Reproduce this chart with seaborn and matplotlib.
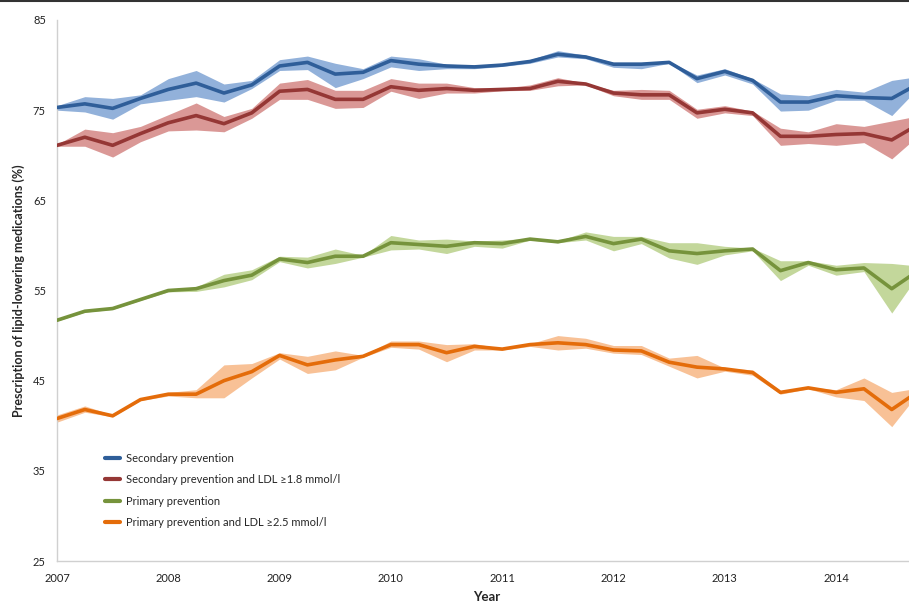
import numpy as np
import pandas as pd
import matplotlib
matplotlib.use("Agg")
import matplotlib.pyplot as plt
from matplotlib.lines import Line2D
import seaborn as sns

# quarterly time points, 2007 Q1 .. 2014 Q4
quarters = [2007 + i * 0.25 for i in range(32)]

series_names = [
    "Secondary prevention",
    "Secondary prevention and LDL \u22651.8 mmol/l",
    "Primary prevention",
    "Primary prevention and LDL \u22652.5 mmol/l",
]

sec = [75.3, 75.7, 75.2, 76.3, 77.3, 78.0, 76.9, 77.8, 79.9, 80.3, 79.0, 79.2,
       80.5, 80.1, 79.9, 79.8, 80.0, 80.4, 81.2, 80.9, 80.1, 80.1, 80.3, 78.5,
       79.3, 78.3, 75.9, 75.9, 76.6, 76.4, 76.3, 78.0]
sec_lo = [75.0, 74.8, 74.0, 75.7, 76.1, 76.5, 75.9, 77.4, 79.4, 79.5, 77.5, 78.5,
          79.8, 79.4, 79.6, 79.6, 79.85, 80.2, 80.9, 80.7, 79.75, 79.6, 80.2, 78.05,
          78.9, 77.9, 74.9, 75.0, 76.1, 76.1, 74.4, 77.6]
sec_hi = [75.5, 76.5, 76.3, 76.7, 78.5, 79.4, 77.9, 78.3, 80.6, 81.0, 80.2, 79.6,
          81.0, 80.7, 80.1, 80.0, 80.15, 80.6, 81.6, 81.1, 80.3, 80.3, 80.4, 78.9,
          79.6, 78.5, 76.8, 76.6, 77.3, 77.0, 78.3, 78.75]

sec_ldl = [71.1, 72.0, 71.1, 72.4, 73.6, 74.4, 73.5, 74.7, 77.1, 77.3, 76.2, 76.2,
           77.6, 77.2, 77.4, 77.2, 77.3, 77.4, 78.2, 77.9, 76.9, 76.7, 76.7, 74.7,
           75.1, 74.7, 72.1, 72.1, 72.3, 72.4, 71.7, 73.5]
sec_ldl_lo = [71.0, 71.0, 69.8, 71.5, 72.7, 72.8, 72.6, 74.1, 76.2, 76.2, 75.2, 75.3,
              77.1, 76.3, 76.9, 76.9, 77.15, 77.2, 77.7, 77.8, 76.6, 76.2, 76.2, 74.1,
              74.7, 74.4, 71.1, 71.3, 71.1, 71.4, 69.6, 72.3]
sec_ldl_hi = [71.2, 72.9, 72.5, 73.2, 74.5, 75.8, 74.3, 75.2, 78.0, 78.4, 77.2, 77.2,
              78.5, 78.0, 78.0, 77.5, 77.45, 77.8, 78.6, 78.0, 77.2, 77.3, 77.2, 75.1,
              75.5, 74.9, 73.0, 72.6, 73.5, 73.2, 73.8, 74.4]

prim = [51.7, 52.7, 53.0, 54.0, 55.0, 55.2, 56.1, 56.7, 58.5, 58.1, 58.8, 58.8,
        60.3, 60.1, 59.9, 60.3, 60.2, 60.7, 60.4, 61.0, 60.2, 60.7, 59.4, 59.1,
        59.4, 59.6, 57.2, 58.1, 57.3, 57.5, 55.2, 57.3]
prim_lo = [51.6, 52.6, 52.9, 53.9, 54.85, 54.9, 55.4, 56.2, 58.2, 57.5, 58.0, 58.7,
           59.5, 59.6, 59.1, 59.9, 59.7, 60.6, 60.3, 60.6, 59.4, 60.2, 58.6, 57.9,
           58.95, 59.4, 56.1, 57.8, 56.7, 57.1, 52.5, 56.9]
prim_hi = [51.8, 52.8, 53.1, 54.1, 55.15, 55.4, 56.8, 57.3, 58.8, 58.7, 59.6, 58.9,
           61.1, 60.6, 60.7, 60.5, 60.6, 60.8, 60.5, 61.5, 61.0, 61.0, 60.3, 60.3,
           59.9, 59.7, 58.3, 58.3, 57.8, 58.1, 58.0, 57.7]

prim_ldl = [40.8, 41.8, 41.1, 42.9, 43.5, 43.5, 45.0, 46.0, 47.8, 46.75, 47.3, 47.7,
            49.0, 49.0, 48.1, 48.8, 48.5, 49.0, 49.2, 49.0, 48.4, 48.3, 47.05, 46.5,
            46.3, 45.9, 43.7, 44.2, 43.7, 44.1, 41.8, 43.9]
prim_ldl_lo = [40.4, 41.5, 41.0, 42.8, 43.3, 43.1, 43.1, 45.3, 47.4, 45.8, 46.2, 47.6,
               48.7, 48.5, 47.1, 48.4, 48.4, 48.8, 48.4, 48.6, 48.05, 47.9, 46.6, 45.3,
               46.05, 45.6, 43.5, 44.1, 43.2, 42.8, 39.9, 43.8]
prim_ldl_hi = [41.2, 42.2, 41.2, 43.0, 43.7, 44.0, 46.75, 46.9, 48.1, 47.7, 48.3, 47.8,
               49.4, 49.4, 49.0, 49.1, 48.6, 49.1, 50.0, 49.7, 48.9, 48.9, 47.5, 47.8,
               46.4, 46.2, 43.9, 44.3, 44.0, 45.3, 43.7, 44.2]

line_colors = ["#2F5E99", "#953735", "#76933C", "#E46C0A"]
band_colors = ["#92B1DA", "#DA9896", "#C3D79B", "#F8C196"]

values = [sec, sec_ldl, prim, prim_ldl]
lows = [sec_lo, sec_ldl_lo, prim_lo, prim_ldl_lo]
highs = [sec_hi, sec_ldl_hi, prim_hi, prim_ldl_hi]

# long-form table for seaborn
frames = []
for name, v in zip(series_names, values):
    frames.append(pd.DataFrame({"Year": quarters, "Value": v, "Series": name}))
df = pd.concat(frames, ignore_index=True)

sns.set_style("white")
plt.rcParams["font.family"] = ["Lato", "DejaVu Sans"]

fig = plt.figure(figsize=(9.09, 6.05), dpi=100)
ax = fig.add_axes([57 / 909, 1 - 561 / 605, 1 - 57 / 909, (561 - 20) / 605])

# confidence bands first
for lo, hi, c in zip(lows, highs, band_colors):
    ax.fill_between(quarters, lo, hi, color=c, linewidth=0, zorder=1)

sns.lineplot(data=df, x="Year", y="Value", hue="Series", palette=line_colors,
             linewidth=2.6, ax=ax, zorder=3, legend=False)

ax.set_yticks(np.arange(25, 86, 10))
ax.set_xticks(range(2007, 2015))
ax.set_xticks(quarters, minor=True)
# limits after the ticks, the chart is cut off just past mid-2014
ax.set_xlim(2007, 2007 + (909 - 57) / 111.3)
ax.set_ylim(25, 85)
ax.tick_params(axis="x", which="both", direction="in", length=3, color="#BFBFBF",
               labelsize=8, pad=9, labelcolor="#222222")
ax.tick_params(axis="y", length=0, labelsize=8, pad=8, labelcolor="#222222")

for side in ["top", "right"]:
    ax.spines[side].set_visible(False)
for side in ["left", "bottom"]:
    ax.spines[side].set_color("#D0D0D0")
    ax.spines[side].set_linewidth(1)

ax.set_xlabel("Year", fontsize=9.5, fontweight="bold")
ax.xaxis.set_label_coords((487 - 57) / (909 - 57), -0.056)
ax.set_ylabel("Prescription of lipid-lowering medications (%)", fontsize=9, fontweight="bold")
ax.yaxis.set_label_coords(-0.037, 0.5)

handles = [Line2D([0], [0], color=c, linewidth=3) for c in line_colors]
ax.legend(handles, series_names, loc="lower left", bbox_to_anchor=(0.045, 0.042),
          frameon=False, fontsize=8, handlelength=1.3, labelspacing=0.95,
          handletextpad=0.6)

# thin dark border at the top of the image
fig.add_artist(Line2D([0, 1], [0.999, 0.999], color="#333333", linewidth=1.5,
                      transform=fig.transFigure))

fig.savefig("out.png", dpi=100)
